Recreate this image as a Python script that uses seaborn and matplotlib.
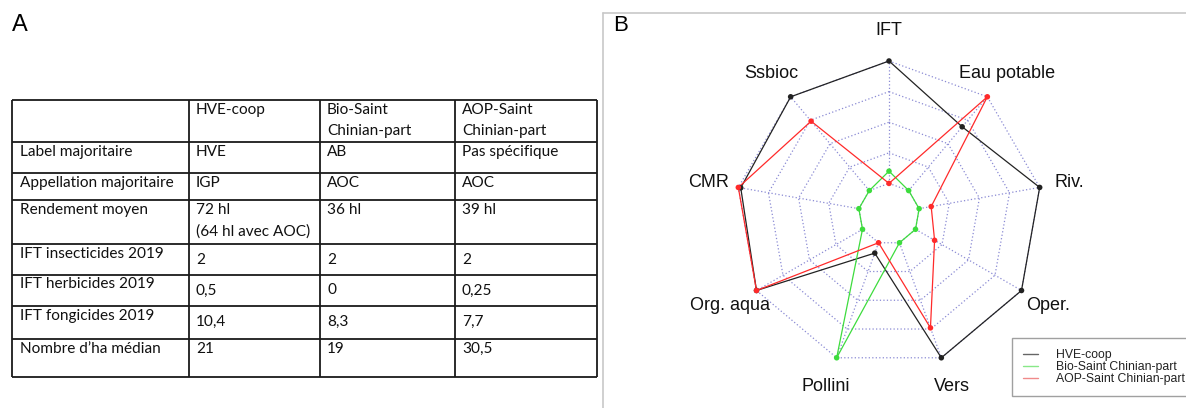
import numpy as np
import pandas as pd
import matplotlib
matplotlib.use("Agg")
import matplotlib.pyplot as plt
from matplotlib.lines import Line2D
import seaborn as sns

# ---------------- data ----------------
table_columns = ["HVE-coop", "Bio-Saint\nChinian-part", "AOP-Saint\nChinian-part"]
row_labels = ["Label majoritaire", "Appellation majoritaire", "Rendement moyen",
              "IFT insecticides 2019", "IFT herbicides 2019", "IFT fongicides 2019",
              "Nombre d\u2019ha m\u00e9dian"]
hve_col = ["HVE", "IGP", "72 hl\n(64 hl avec AOC)", "2", "0,5", "10,4", "21"]
bio_col = ["AB", "AOC", "36 hl", "2", "0", "8,3", "19"]
aop_col = ["Pas sp\u00e9cifique", "AOC", "39 hl", "2", "0,25", "7,7", "30,5"]

radar_axes = ["IFT", "Eau potable", "Riv.", "Oper.", "Vers", "Pollini",
              "Org. aqua", "CMR", "Ssbioc"]
series_names = ["HVE-coop", "Bio-Saint Chinian-part", "AOP-Saint Chinian-part"]
hve_vals = [1.00, 0.68, 1.00, 1.00, 1.00, 0.09, 1.00, 0.98, 1.00]
bio_vals = [0.10, 0.00, 0.00, 0.00, 0.00, 1.00, 0.00, 0.00, 0.00]
aop_vals = [0.00, 1.00, 0.10, 0.18, 0.74, 0.00, 1.00, 1.00, 0.74]

# ---------------- figure ----------------
sns.set_theme(style="white")
plt.rcParams["font.family"] = ["Liberation Sans", "DejaVu Sans"]

W, H = 1186, 408
fig = plt.figure(figsize=(W / 100, H / 100), dpi=100)
fig.patch.set_facecolor("white")

# full-figure axes in pixel coordinates for the table and frame
axT = fig.add_axes([0, 0, 1, 1])
axT.set_xlim(0, W)
axT.set_ylim(H, 0)
axT.axis("off")

col_x = [12, 189, 320, 455, 597]
row_y = [100, 142, 173, 200, 243.5, 274.5, 306, 339, 377]
axT.hlines(row_y, col_x[0], col_x[-1], color="#1a1a1a", lw=1.3)
axT.vlines(col_x, row_y[0], row_y[-1], color="#1a1a1a", lw=1.3)

tfont = dict(family=["Lato", "DejaVu Sans"], fontsize=11.1, color="#111111",
             va="top", ha="left", linespacing=1.62)
for j, name in enumerate(table_columns):
    axT.text(col_x[j + 1] + 7, row_y[0] + 3, name, **tfont)
cols = [hve_col, bio_col, aop_col]
shift_rows = {3, 4, 5}
for i, lab in enumerate(row_labels):
    top = row_y[i + 1] + 3
    axT.text(col_x[0] + 8, top, lab, **tfont)
    off = 6 if i in shift_rows else 0
    for j, col in enumerate(cols):
        axT.text(col_x[j + 1] + 7, top + off, col[i], **tfont)

axT.text(12, 14, "A", fontsize=17, va="top", ha="left", color="black")
axT.plot([603, W + 5], [13, 13], color="#c8c8c8", lw=1.2, clip_on=False)
axT.plot([603, 603], [13, H + 5], color="#c8c8c8", lw=1.2, clip_on=False)
axT.text(613, 15, "B", fontsize=16, va="top", ha="left", color="black")

# ---------------- radar ----------------
R = 153.0
cx, cy = 889.0, 214.0
xl, xr, yb, yt = -1.3, 1.3, -1.25, 1.3
axR = fig.add_axes([(cx + xl * R) / W, (H - cy + yb * R) / H,
                    (xr - xl) * R / W, (yt - yb) * R / H])
axR.set_xlim(xl, xr)
axR.set_ylim(yb, yt)
axR.axis("off")
axR.patch.set_alpha(0)

n = len(radar_axes)
theta = np.pi / 2 - 2 * np.pi * np.arange(n) / n
gcol = "#8a8ad4"
for lev in [0.2, 0.4, 0.6, 0.8, 1.0]:
    gx = np.append(lev * np.cos(theta), lev * np.cos(theta[0]))
    gy = np.append(lev * np.sin(theta), lev * np.sin(theta[0]))
    axR.plot(gx, gy, color=gcol, lw=0.9, ls=(0, (1, 1.8)), zorder=1)
for t in theta:
    axR.plot([0.2 * np.cos(t), np.cos(t)], [0.2 * np.sin(t), np.sin(t)],
             color=gcol, lw=0.9, ls=(0, (1, 1.8)), zorder=1)

rows = []
for name, vals in zip(series_names, [hve_vals, bio_vals, aop_vals]):
    for k, v in enumerate(list(vals) + [vals[0]]):
        kk = k % n
        r = 0.2 + 0.8 * v
        rows.append(dict(series=name, axis=radar_axes[kk], order=k,
                         x=r * np.cos(theta[kk]), y=r * np.sin(theta[kk])))
df = pd.DataFrame(rows)
palette = {"HVE-coop": "#222222", "Bio-Saint Chinian-part": "#3ddc3d",
           "AOP-Saint Chinian-part": "#ff2a2a"}
for name in series_names:
    sub = df[df.series == name]
    sns.lineplot(data=sub, x="x", y="y", sort=False, estimator=None,
                 color=palette[name], lw=0.9, ax=axR, legend=False, zorder=3)
    sns.scatterplot(data=sub[sub.order < n], x="x", y="y", color=palette[name],
                    s=16, edgecolor="none", ax=axR, legend=False, zorder=4)
axR.set_xlabel("")
axR.set_ylabel("")
axR.axis("off")

for lab, t in zip(radar_axes, theta):
    axR.text(1.2 * np.cos(t), 1.2 * np.sin(t), lab, ha="center", va="center",
             fontsize=13, color="#111111")

leg_colors = ["#666666", "#88e888", "#f08a8a"]
handles = [Line2D([], [], color=c, lw=1.0) for c in leg_colors]
leg = fig.legend(handles, series_names, loc="upper left",
                 bbox_to_anchor=(1012 / W, 1 - 338 / H), frameon=True,
                 fancybox=False, edgecolor="#888888", fontsize=8.8,
                 handlelength=1.2, handletextpad=1.5, borderpad=0.9,
                 labelspacing=0.02, borderaxespad=0)
leg.get_frame().set_linewidth(1.0)
for txt in leg.get_texts():
    txt.set_color("#222222")

fig.savefig("out.png", dpi=100, facecolor="white")
